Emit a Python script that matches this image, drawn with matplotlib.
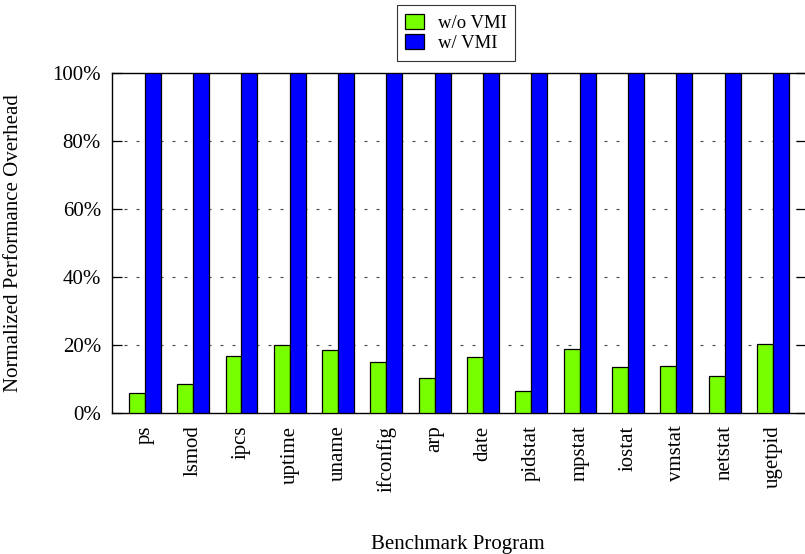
import matplotlib
matplotlib.use("Agg")
import matplotlib.pyplot as plt
import numpy as np

categories = ["ps", "lsmod", "ipcs", "uptime", "uname", "ifconfig", "arp",
              "date", "pidstat", "mpstat", "iostat", "vmstat", "netstat", "ugetpid"]
wo_vmi = [5.9, 8.4, 16.8, 20.0, 18.4, 15.0, 10.3, 16.6, 6.4, 18.7, 13.6, 13.7, 10.8, 20.2]
w_vmi = [100] * 14
yticks = [0, 20, 40, 60, 80, 100]
ytick_labels = ["0%", "20%", "40%", "60%", "80%", "100%"]

plt.rcParams['font.family'] = ['Liberation Serif', 'DejaVu Serif']

fig = plt.figure(figsize=(8.05, 5.54), dpi=100)
ax = fig.add_axes([112/805, 1 - 413/554, (805-112)/805 + 0.001, (413-73)/554])

x = np.arange(len(categories))
bw = 0.33
ax.bar(x - bw/2, wo_vmi, bw, color="#77ff00", edgecolor="black", linewidth=0.9, label="w/o VMI", zorder=3)
ax.bar(x + bw/2, w_vmi, bw, color="#0000ff", edgecolor="black", linewidth=0.9, label="w/ VMI", zorder=3)

ax.set_xlim(-0.68, 13.68)
ax.set_ylim(0, 100)
ax.set_yticks(yticks)
ax.set_yticklabels(ytick_labels, fontsize=15)
ax.set_xticks(x)
ax.set_xticklabels(categories, rotation=90, fontsize=15)
ax.tick_params(axis='x', length=0, pad=9)
ax.tick_params(axis='y', direction='in', length=7, right=True, width=0.9, pad=8)
for yv in yticks[1:-1]:
    ax.axhline(yv, color="#444444", linewidth=0.8, linestyle=(0, (2.7, 8.1)), zorder=1)
for s in ax.spines.values():
    s.set_linewidth(1.0)

ax.set_ylabel("Normalized Performance Overhead", fontsize=15)
ax.yaxis.set_label_coords(-(112 - 23) / 693, 0.5)
fig.text(458/805, 1 - 544/554, "Benchmark Program", ha="center", va="center", fontsize=15)

leg = ax.legend(loc="center", bbox_to_anchor=(456/805, 1 - 33/554), bbox_transform=fig.transFigure,
                fontsize=13.5, frameon=True, fancybox=False, edgecolor="black",
                handlelength=1.0, handleheight=0.85, handletextpad=0.75, borderpad=0.45,
                labelspacing=0.12, borderaxespad=0)
leg.get_frame().set_linewidth(0.8)

fig.savefig("out.png", dpi=100)
